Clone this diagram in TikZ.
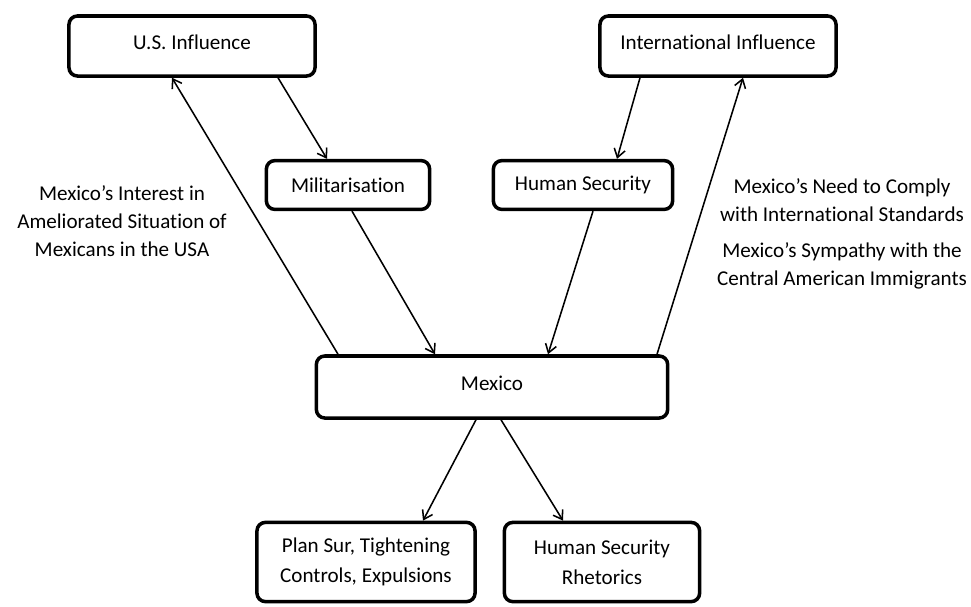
\documentclass[tikz,border=0pt]{standalone}
\usepackage{fontspec}
\setmainfont{Carlito}[Ligatures=NoCommon]
\usetikzlibrary{arrows.meta}

\begin{document}
\begin{tikzpicture}[x=0.025cm,y=-0.025cm,
  >={Straight Barb[length=6pt,width=8pt]},
  box/.style={draw,line width=2.5pt,rounded corners=6pt,align=center,inner sep=0pt,
    font=\fontsize{15}{21.5}\selectfont},
  note/.style={align=center,font=\fontsize{15}{20}\selectfont},
  link/.style={->,line width=1.1pt}]
\useasboundingbox (0,0) rectangle (971,606);
% boxes
\node[box,minimum width=6.15cm,minimum height=1.5cm,text depth=6pt] (us) at (192,46) {U.S. Influence};
\node[box,minimum width=5.9cm,minimum height=1.5cm,text depth=6pt] (intl) at (718,46) {International Influence};
\node[box,minimum width=4.08cm,minimum height=1.22cm] (mil) at (348,185) {Militarisation};
\node[box,minimum width=4.48cm,minimum height=1.22cm] (hs) at (583,185) {Human Security};
\node[box,minimum width=8.78cm,minimum height=1.55cm,text depth=5pt] (mex) at (492,387) {Mexico};
\node[box,minimum width=5.45cm,minimum height=1.98cm] (plan) at (366,562) {Plan Sur, Tightening\\Controls, Expulsions};
\node[box,minimum width=4.88cm,minimum height=1.98cm] (rhet) at (602,562) {Human Security\\Rhetorics};
% labels
\node[note] (interest) at (122,221) {Mexico’s Interest in\\Ameliorated Situation of\\Mexicans in the USA};
\node[note] (comply) at (842,200) {Mexico’s Need to Comply\\with International Standards};
\node[note] (sympathy) at (842,266) {Mexico’s Sympathy with the\\Central American Immigrants};
% arrows
\draw[link] (338,0 |- mex.north) -- (172,0 |- us.south);
\draw[link] (278,0 |- us.south) -- (327,0 |- mil.north);
\draw[link] (352,0 |- mil.south) -- (435,0 |- mex.north);
\draw[link] (640,0 |- intl.south) -- (617,0 |- hs.north);
\draw[link] (593,0 |- hs.south) -- (548,0 |- mex.north);
\draw[link] (657,0 |- mex.north) -- (743,0 |- intl.south);
\draw[link] (476,0 |- mex.south) -- (423,0 |- plan.north);
\draw[link] (501,0 |- mex.south) -- (563,0 |- rhet.north);
\end{tikzpicture}
\end{document}
